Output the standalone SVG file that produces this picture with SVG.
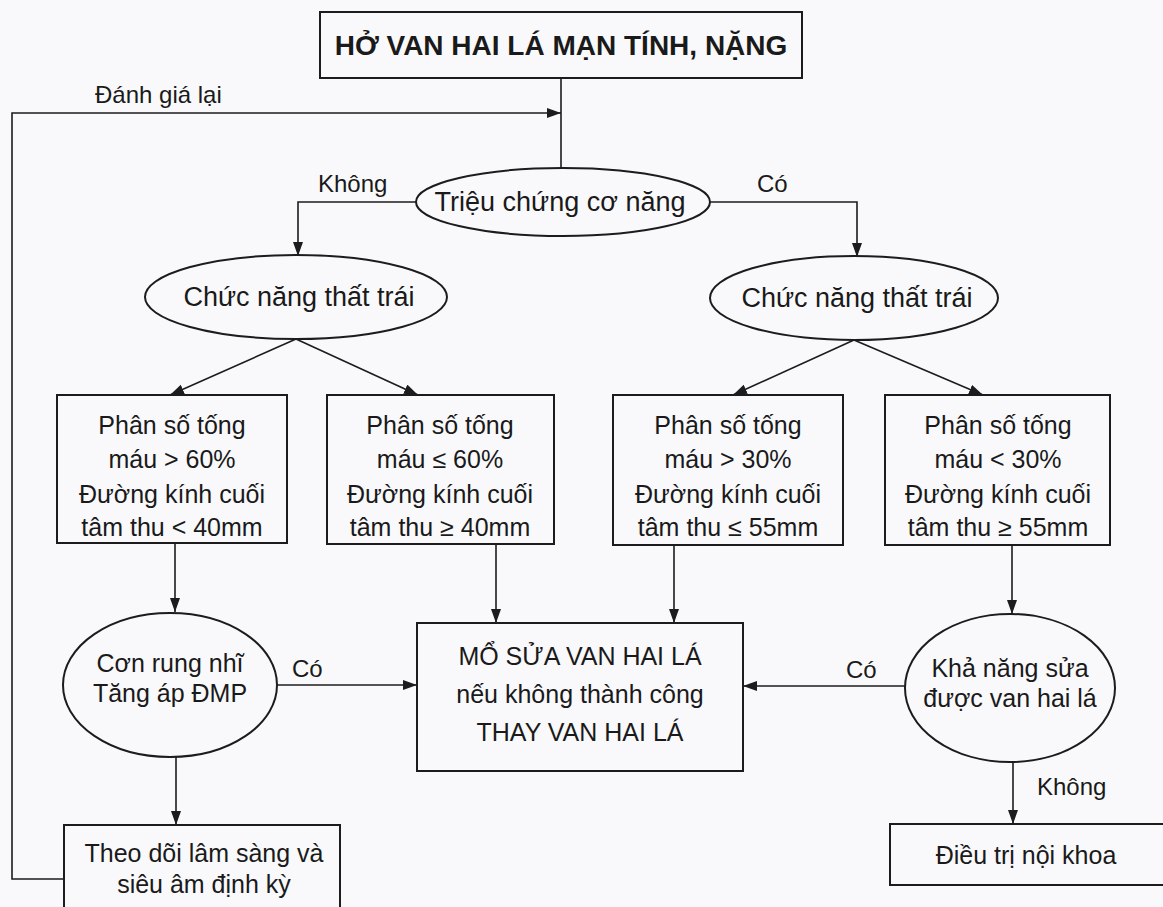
<svg xmlns="http://www.w3.org/2000/svg" width="1163" height="907" viewBox="0 0 1163 907">
  <style>
    .shape { fill: none; stroke: #1c1c1c; stroke-width: 2; }
    .edge { fill: none; stroke: #1c1c1c; stroke-width: 1.6; }
    .arrow { marker-end: url(#head); }
    text { font-family: "Liberation Sans", Arial, sans-serif; fill: #1a1a1a; }
    .t { font-size: 25px; text-anchor: middle; }
    .e { font-size: 27px; text-anchor: middle; }
    .lbl { font-size: 24px; }
    .title { font-size: 28px; font-weight: bold; text-anchor: middle; }
  </style>
  <defs>
    <marker id="head" markerUnits="userSpaceOnUse" markerWidth="15" markerHeight="12" refX="14" refY="5" orient="auto">
      <path d="M0,0 L14,5 L0,10 z" fill="#1c1c1c"/>
    </marker>
  </defs>

  <rect x="0" y="0" width="1163" height="907" fill="#f9f9fb"/>

  <!-- connectors -->
  <g id="connectors">
    <line class="edge" x1="561" y1="78" x2="561" y2="169"/>
    <polyline class="edge arrow" points="64,879 12,879 12,113 561,113"/>
    <polyline class="edge arrow" points="416,202 298,202 298,256"/>
    <polyline class="edge arrow" points="710,202 857,202 857,257"/>
    <line class="edge arrow" x1="296" y1="339" x2="170" y2="395"/>
    <line class="edge arrow" x1="296" y1="339" x2="418" y2="395"/>
    <line class="edge arrow" x1="854" y1="340" x2="733" y2="395"/>
    <line class="edge arrow" x1="854" y1="340" x2="983" y2="395"/>
    <line class="edge arrow" x1="175" y1="543" x2="175" y2="612"/>
    <line class="edge arrow" x1="496" y1="544" x2="496" y2="623"/>
    <line class="edge arrow" x1="674" y1="545" x2="674" y2="623"/>
    <line class="edge arrow" x1="1012" y1="545" x2="1012" y2="614"/>
    <line class="edge arrow" x1="277" y1="685" x2="417" y2="685"/>
    <line class="edge arrow" x1="905" y1="686" x2="743" y2="686"/>
    <line class="edge arrow" x1="176" y1="757" x2="176" y2="825"/>
    <line class="edge arrow" x1="1013" y1="762" x2="1013" y2="824"/>
    <text class="lbl" x="95" y="103">Đánh giá lại</text>
    <text class="lbl" x="318" y="192">Không</text>
    <text class="lbl" x="757" y="192">Có</text>
    <text class="lbl" x="292" y="677">Có</text>
    <text class="lbl" x="846" y="678">Có</text>
    <text class="lbl" x="1037" y="795">Không</text>
  </g>

  <g id="n-title">
    <rect class="shape" x="320" y="12" width="482" height="66"/>
    <text class="title" x="561" y="55">HỞ VAN HAI LÁ MẠN TÍNH, NẶNG</text>
  </g>

  <g id="n-symptoms">
    <ellipse class="shape" cx="563" cy="202" rx="147" ry="34"/>
    <text class="e" x="560" y="211">Triệu chứng cơ năng</text>
  </g>

  <g id="n-lv-left">
    <ellipse class="shape" cx="296" cy="297" rx="151" ry="42"/>
    <text class="e" x="299" y="306">Chức năng thất trái</text>
  </g>

  <g id="n-lv-right">
    <ellipse class="shape" cx="854" cy="298" rx="144" ry="42"/>
    <text class="e" x="857" y="307">Chức năng thất trái</text>
  </g>

  <g id="n-ef-gt60">
    <rect class="shape" x="57" y="395" width="230" height="148"/>
    <text class="t" x="172" y="434">Phân số tống</text>
    <text class="t" x="172" y="468">máu &gt; 60%</text>
    <text class="t" x="172" y="503">Đường kính cuối</text>
    <text class="t" x="172" y="536">tâm thu &lt; 40mm</text>
  </g>

  <g id="n-ef-le60">
    <rect class="shape" x="327" y="395" width="227" height="149"/>
    <text class="t" x="440" y="434">Phân số tống</text>
    <text class="t" x="440" y="468">máu ≤ 60%</text>
    <text class="t" x="440" y="503">Đường kính cuối</text>
    <text class="t" x="440" y="536">tâm thu ≥ 40mm</text>
  </g>

  <g id="n-ef-gt30">
    <rect class="shape" x="613" y="395" width="230" height="150"/>
    <text class="t" x="728" y="434">Phân số tống</text>
    <text class="t" x="728" y="468">máu &gt; 30%</text>
    <text class="t" x="728" y="503">Đường kính cuối</text>
    <text class="t" x="728" y="536">tâm thu ≤ 55mm</text>
  </g>

  <g id="n-ef-lt30">
    <rect class="shape" x="885" y="395" width="225" height="150"/>
    <text class="t" x="998" y="434">Phân số tống</text>
    <text class="t" x="998" y="468">máu &lt; 30%</text>
    <text class="t" x="998" y="503">Đường kính cuối</text>
    <text class="t" x="998" y="536">tâm thu ≥ 55mm</text>
  </g>

  <g id="n-af">
    <ellipse class="shape" cx="170" cy="685" rx="107" ry="72"/>
    <text class="t" x="170" y="672">Cơn rung nhĩ</text>
    <text class="t" x="170" y="702">Tăng áp ĐMP</text>
  </g>

  <g id="n-surgery">
    <rect class="shape" x="417" y="623" width="326" height="148"/>
    <text class="t" x="580" y="665">MỔ SỬA VAN HAI LÁ</text>
    <text class="t" x="580" y="703">nếu không thành công</text>
    <text class="t" x="580" y="741">THAY VAN HAI LÁ</text>
  </g>

  <g id="n-repairable">
    <ellipse class="shape" cx="1010" cy="688" rx="105" ry="74"/>
    <text class="t" x="1010" y="677">Khả năng sửa</text>
    <text class="t" x="1010" y="707">được van hai lá</text>
  </g>

  <g id="n-followup">
    <rect class="shape" x="64" y="825" width="276" height="95"/>
    <text class="t" x="204" y="862">Theo dõi lâm sàng và</text>
    <text class="t" x="204" y="893">siêu âm định kỳ</text>
  </g>

  <g id="n-medical">
    <rect class="shape" x="890" y="824" width="280" height="61"/>
    <text class="t" x="1026" y="864">Điều trị nội khoa</text>
  </g>
</svg>
